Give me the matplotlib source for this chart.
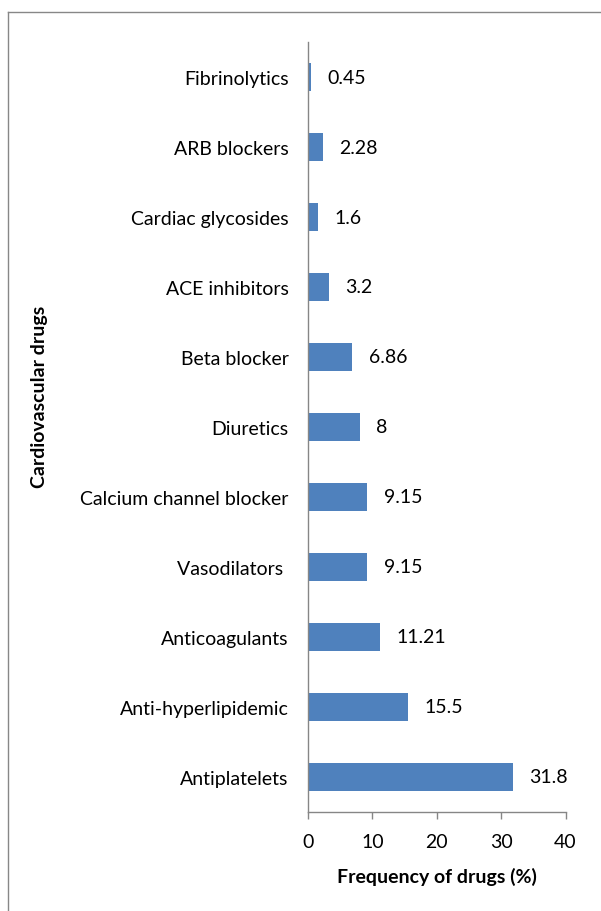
import matplotlib.pyplot as plt
from matplotlib.lines import Line2D

# data (top to bottom as in the chart)
categories = ["Fibrinolytics", "ARB blockers", "Cardiac glycosides", "ACE inhibitors",
              "Beta blocker", "Diuretics", "Calcium channel blocker", "Vasodilators ",
              "Anticoagulants", "Anti-hyperlipidemic", "Antiplatelets"]
values = [0.45, 2.28, 1.6, 3.2, 6.86, 8, 9.15, 9.15, 11.21, 15.5, 31.8]
value_labels = ["0.45", "2.28", "1.6", "3.2", "6.86", "8", "9.15", "9.15", "11.21", "15.5", "31.8"]
xticks = [0, 10, 20, 30, 40]

plt.rcParams['font.family'] = ['Lato', 'DejaVu Sans']
FS = 14

W, H = 601, 912
fig = plt.figure(figsize=(W / 100, H / 100), dpi=100)
ax = fig.add_axes([308 / W, 1 - 813 / H, (565.5 - 308) / W, (813 - 43) / H])

pos = list(range(len(categories)))
ax.barh(pos, values, height=0.39, color="#4F81BD")
for p, v, lab in zip(pos, values, value_labels):
    ax.annotate(lab, (v, p), xytext=(12, 0), textcoords="offset points",
                va="center", ha="left", fontsize=FS, color="black")

ax.set_ylim(len(categories) - 0.5, -0.5)
ax.set_yticks(pos)
ax.set_yticklabels(categories, fontsize=FS)
ax.tick_params(axis="y", length=0, pad=14)
ax.set_xlim(0, 40)
ax.set_xticks(xticks)
ax.tick_params(axis="x", length=5, width=1, color="#868686", labelsize=FS, pad=10, direction="out")

for s in ["top", "right"]:
    ax.spines[s].set_visible(False)
for s in ["left", "bottom"]:
    ax.spines[s].set_color("#868686")
    ax.spines[s].set_linewidth(1)

fig.text(437 / W, 1 - 877 / H, "Frequency of drugs (%)", ha="center", va="center",
         fontsize=FS, fontweight="bold")
fig.text(40 / W, 1 - 397 / H, "Cardiovascular drugs", ha="center", va="center",
         rotation=90, fontsize=FS, fontweight="bold")

# outer chart border (cropped at right and bottom)
fig.add_artist(Line2D([8 / W, 8 / W], [0, 1 - 13 / H], transform=fig.transFigure,
                      color="#878787", lw=1))
fig.add_artist(Line2D([8 / W, 1], [1 - 13 / H, 1 - 13 / H], transform=fig.transFigure,
                      color="#878787", lw=1))

fig.savefig("out.png", dpi=100)
